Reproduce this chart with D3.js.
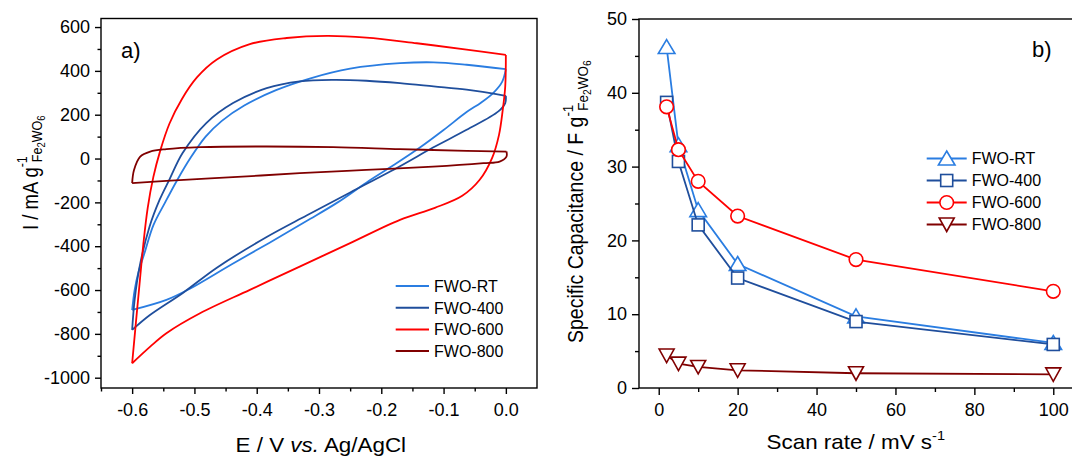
<!DOCTYPE html>
<html>
<head>
<meta charset="utf-8">
<script src="https://cdn.jsdelivr.net/npm/d3@7"></script>
<style>
body { margin: 0; background: #fff; }
svg { display: block; font-family: "Liberation Sans", Arial, sans-serif; }
</style>
</head>
<body>
<svg id="fig" width="1072" height="457"></svg>
<script>
// ---- data: cyclic voltammograms (E / V, I / mA g-1) ----
var cvRT = [
  [-0.600,-691],[-0.596,-600],[-0.590,-520],[-0.580,-430],[-0.566,-305],[-0.547,-200],[-0.528,-100],
  [-0.507,0],[-0.482,100],[-0.456,172],[-0.420,242],[-0.369,312],[-0.315,365],[-0.250,410],
  [-0.170,435],[-0.116,439],[-0.063,428],[0.000,408],
  [-0.006,350],[-0.020,300],[-0.040,255],[-0.063,212],[-0.100,130],[-0.138,50],[-0.180,-30],
  [-0.224,-110],[-0.270,-200],[-0.320,-285],[-0.380,-385],[-0.440,-482],[-0.508,-595],
  [-0.545,-645],[-0.600,-691]
];
var cv400 = [
  [-0.600,-782],[-0.596,-645],[-0.588,-493],[-0.572,-310],[-0.556,-189],[-0.540,-95],[-0.519,25],
  [-0.481,162],[-0.438,253],[-0.384,321],[-0.331,352],[-0.277,359],[-0.224,355],[-0.170,344],
  [-0.116,329],[-0.063,314],[0.000,286],
  [-0.001,253],[-0.012,215],[-0.063,131],[-0.117,50],[-0.170,-35],[-0.250,-155],[-0.320,-260],
  [-0.384,-358],[-0.464,-498],[-0.518,-612],[-0.572,-715],[-0.600,-782]
];
var cv600 = [
  [-0.600,-934],[-0.594,-750],[-0.588,-569],[-0.582,-390],[-0.575,-225],[-0.566,-85],[-0.555,35],
  [-0.540,160],[-0.520,272],[-0.496,370],[-0.464,452],[-0.411,522],[-0.352,550],[-0.287,560],
  [-0.224,552],[-0.143,526],[-0.063,497],[0.000,473],
  [-0.001,329],[-0.005,222],[-0.011,108],[-0.022,3],[-0.042,-97],[-0.070,-170],[-0.114,-225],
  [-0.170,-280],[-0.250,-386],[-0.331,-493],[-0.411,-599],[-0.491,-706],[-0.545,-797],
  [-0.571,-858],[-0.600,-934]
];
var cv800 = [
  [-0.600,-112],[-0.597,-52],[-0.587,9],[-0.571,32],[-0.545,43],[-0.491,52],[-0.384,55],
  [-0.277,52],[-0.170,43],[-0.063,35],[0.001,32],
  [0.001,9],[-0.010,-14],[-0.036,-21],[-0.117,-37],[-0.224,-52],[-0.331,-67],[-0.438,-85],
  [-0.545,-102],[-0.600,-112]
];

// ---- data: specific capacitance (F g-1) vs scan rate (mV s-1) ----
var scanRate = [2, 5, 10, 20, 50, 100];
var capRT  = [46.2, 32.9, 24.1, 16.8, 9.7, 6.1];
var cap400 = [38.7, 30.7, 22.1, 14.9, 9.0, 5.9];
var cap600 = [38.1, 32.3, 28.0, 23.3, 17.4, 13.1];
var cap800 = [4.4, 3.3, 2.85, 2.4, 2.0, 1.85];

var sampleNames = ["FWO-RT", "FWO-400", "FWO-600", "FWO-800"];

// ---- tick labels ----
var cvTicksE = [-0.6, -0.5, -0.4, -0.3, -0.2, -0.1, 0.0];
var cvTicksI = [-1000, -800, -600, -400, -200, 0, 200, 400, 600];
var capTicksX = [0, 20, 40, 60, 80, 100];
var capTicksY = [0, 10, 20, 30, 40, 50];

var colors = ["#2a7de1", "#1f4e9c", "#ff0000", "#800000"];
var shapes = ["up", "square", "circle", "down"];

var svg = d3.select("#fig");
var ink = "#000";

// ========== panel a) ==========
var xA = d3.scaleLinear().domain([-0.65, 0.05]).range([101, 537]);
var yA = d3.scaleLinear().domain([-1047, 639]).range([388, 18.5]);

function styleAxis(g, fs) {
  g.select(".domain").remove();
  g.selectAll(".tick line").attr("stroke", ink).attr("stroke-width", 1.4);
  g.selectAll(".tick text").attr("fill", ink).style("font-size", fs + "px");
}

var gxA = svg.append("g").attr("transform", "translate(0,388)")
  .call(d3.axisBottom(xA).tickValues(cvTicksE).tickSize(6).tickPadding(9)
    .tickFormat(function (d) { return d.toFixed(1); }));
styleAxis(gxA, 18);
var gxAm = svg.append("g").attr("transform", "translate(0,388)")
  .call(d3.axisBottom(xA).tickValues(cvTicksE.map(function (d) { return d - 0.05; })).tickSize(3.5).tickFormat(""));
styleAxis(gxAm, 18);

var gyA = svg.append("g").attr("transform", "translate(101,0)")
  .call(d3.axisLeft(yA).tickValues(cvTicksI).tickSize(6).tickPadding(5)
    .tickFormat(function (d) { return String(d); }));
styleAxis(gyA, 18);
var gyAm = svg.append("g").attr("transform", "translate(101,0)")
  .call(d3.axisLeft(yA).tickValues(cvTicksI.slice(0, -1).map(function (d) { return d + 100; })).tickSize(3.5).tickFormat(""));
styleAxis(gyAm, 18);

svg.append("rect")
  .attr("x", xA.range()[0]).attr("y", yA.range()[1])
  .attr("width", xA.range()[1] - xA.range()[0])
  .attr("height", yA.range()[0] - yA.range()[1])
  .attr("fill", "none").attr("stroke", ink).attr("stroke-width", 1.4);

var cvLine = d3.line()
  .x(function (d) { return xA(d[0]); })
  .y(function (d) { return yA(d[1]); })
  .curve(d3.curveCatmullRom.alpha(0.5));

var cvSets = [cvRT, cv400, cv600, cv800];
var gCv = svg.append("g");
cvSets.forEach(function (pts, i) {
  // split at the switching potential so the corner stays sharp
  var k = d3.maxIndex(pts, function (d) { return d[0]; });
  [pts.slice(0, k + 1), pts.slice(k)].forEach(function (branch) {
    gCv.append("path")
      .attr("d", cvLine(branch))
      .attr("fill", "none")
      .attr("stroke", colors[i])
      .attr("stroke-width", 1.8);
  });
});

// legend a)
var legA = svg.append("g");
sampleNames.forEach(function (name, i) {
  var y = 286 + i * 21.7;
  legA.append("line").attr("x1", 395.7).attr("x2", 429).attr("y1", y).attr("y2", y)
    .attr("stroke", colors[i]).attr("stroke-width", 2);
  legA.append("text").attr("x", 434).attr("y", y + 5.8).style("font-size", "16px").text(name);
});

svg.append("text").attr("x", 121).attr("y", 58).style("font-size", "22px").text("a)");

// axis titles (the original figure is slightly stretched horizontally)
function xTitle(x, y) {
  return svg.append("g").attr("transform", "translate(" + x + "," + y + ") scale(1.12,1)")
    .append("text").attr("text-anchor", "middle").style("font-size", "20px");
}
var xtA = xTitle(320.8, 452);
xtA.append("tspan").text("E / V ");
xtA.append("tspan").style("font-style", "italic").text("vs.");
xtA.append("tspan").text(" Ag/AgCl");

function yTitle(x, y, main, fs, fsSub) {
  var t = svg.append("text").attr("transform", "translate(" + x + "," + y + ") rotate(-90) scale(1,1.15)")
    .style("font-size", fs + "px");
  t.append("tspan").text(main);
  t.append("tspan").attr("dy", -9).style("font-size", fsSub + "px").text("-1");
  t.append("tspan").attr("dx", -6).attr("dy", 13).style("font-size", fsSub + "px").text("Fe");
  t.append("tspan").attr("dy", 2.5).style("font-size", (fsSub * 0.76) + "px").text("2");
  t.append("tspan").attr("dy", -2.5).style("font-size", fsSub + "px").text("WO");
  t.append("tspan").attr("dy", 2.5).style("font-size", (fsSub * 0.76) + "px").text("6");
}
yTitle(37.7, 230, "I / mA g", 18.5, 12.5);

// ========== panel b) ==========
var xB = d3.scaleLinear().domain([-5, 105]).range([639, 1073]);
var yB = d3.scaleLinear().domain([0, 50]).range([388, 19]);

var gxB = svg.append("g").attr("transform", "translate(0,388)")
  .call(d3.axisBottom(xB).tickValues(capTicksX).tickSize(7).tickPadding(8)
    .tickFormat(function (d) { return String(d); }));
styleAxis(gxB, 18);
var gxBm = svg.append("g").attr("transform", "translate(0,388)")
  .call(d3.axisBottom(xB).tickValues(capTicksX.slice(0, -1).map(function (d) { return d + 10; })).tickSize(4).tickFormat(""));
styleAxis(gxBm, 18);

var gyB = svg.append("g").attr("transform", "translate(639,0)")
  .call(d3.axisLeft(yB).tickValues(capTicksY).tickSize(7).tickPadding(5)
    .tickFormat(function (d) { return String(d); }));
styleAxis(gyB, 18);
var gyBm = svg.append("g").attr("transform", "translate(639,0)")
  .call(d3.axisLeft(yB).tickValues(capTicksY.slice(0, -1).map(function (d) { return d + 5; })).tickSize(4).tickFormat(""));
styleAxis(gyBm, 18);

svg.append("rect")
  .attr("x", xB.range()[0]).attr("y", yB.range()[1])
  .attr("width", xB.range()[1] - xB.range()[0])
  .attr("height", yB.range()[0] - yB.range()[1])
  .attr("fill", "none").attr("stroke", ink).attr("stroke-width", 1.4);

function marker(g, shape, cx, cy, color) {
  var m;
  if (shape === "up") {
    m = g.append("path").attr("d", "M" + cx + "," + (cy - 7.5) + "L" + (cx + 8.3) + "," + (cy + 6.5) + "L" + (cx - 8.3) + "," + (cy + 6.5) + "Z");
  } else if (shape === "down") {
    m = g.append("path").attr("d", "M" + (cx - 7.5) + "," + (cy - 6.5) + "L" + (cx + 7.5) + "," + (cy - 6.5) + "L" + cx + "," + (cy + 7) + "Z");
  } else if (shape === "square") {
    m = g.append("rect").attr("x", cx - 6).attr("y", cy - 6).attr("width", 12).attr("height", 12);
  } else {
    m = g.append("circle").attr("cx", cx).attr("cy", cy).attr("r", 6.8);
  }
  m.attr("fill", "#fff").attr("stroke", color).attr("stroke-width", 1.6);
}

var capSets = [capRT, cap400, cap600, cap800];
var capLine = d3.line()
  .x(function (d, i) { return xB(scanRate[i]); })
  .y(function (d) { return yB(d); });

capSets.forEach(function (vals, i) {
  var g = svg.append("g");
  g.append("path").attr("d", capLine(vals)).attr("fill", "none")
    .attr("stroke", colors[i]).attr("stroke-width", 1.8);
  vals.forEach(function (v, j) {
    marker(g, shapes[i], xB(scanRate[j]), yB(v), colors[i]);
  });
});

// legend b)
var legB = svg.append("g");
sampleNames.forEach(function (name, i) {
  var y = 158.5 + i * 22;
  legB.append("line").attr("x1", 926.7).attr("x2", 966.7).attr("y1", y).attr("y2", y)
    .attr("stroke", colors[i]).attr("stroke-width", 1.8);
  marker(legB, shapes[i], 946.7, y, colors[i]);
  legB.append("text").attr("x", 971.7).attr("y", y + 5.8).style("font-size", "16px").text(name);
});

svg.append("text").attr("x", 1032).attr("y", 57).style("font-size", "22px").text("b)");

var xtB = xTitle(855.8, 449);
xtB.append("tspan").text("Scan rate / mV s");
xtB.append("tspan").attr("dy", -9).style("font-size", "13px").text("-1");

yTitle(583.3, 343, "Specific Capacitance / F g", 19.5, 13.5);
</script>
</body>
</html>
